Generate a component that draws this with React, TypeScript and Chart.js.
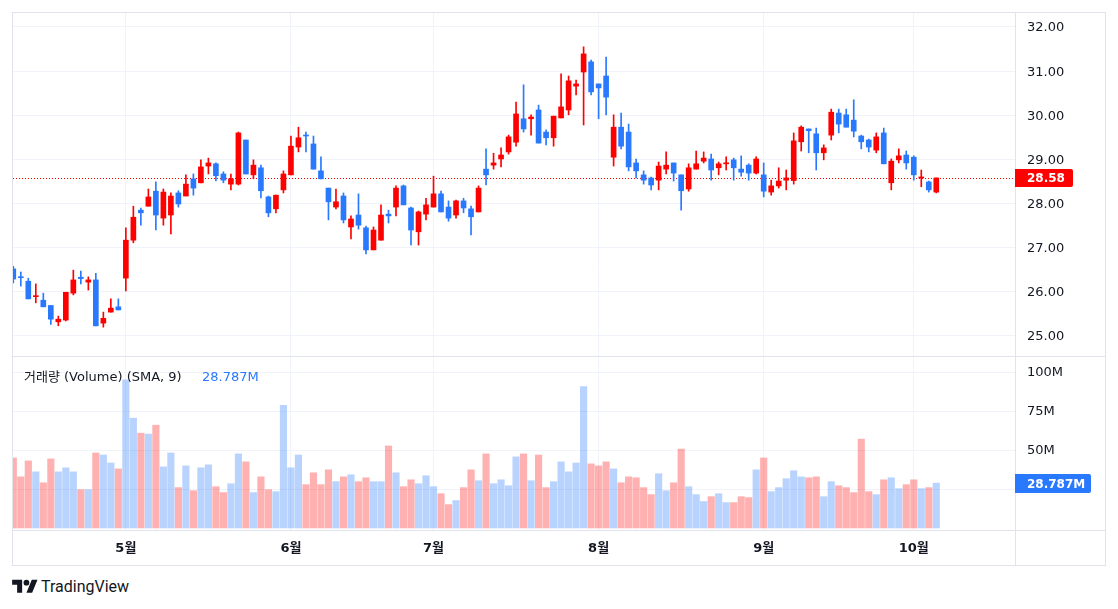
import React, { useEffect, useRef } from 'react';
import { Chart, registerables } from 'chart.js';

Chart.register(...registerables);

// ---- Data (daily candles, index 0 = first visible bar) ----
const opens = [
  26.52, 26.34, 26.24, 25.89, 25.81, 25.69, 25.32, 25.36, 25.97, 26.33,
  26.22, 26.27, 25.29, 25.54, 25.66, 26.31, 27.17, 27.85, 27.94, 28.28,
  27.67, 27.74, 28.24, 28.17, 28.56, 28.47, 28.85, 28.90, 28.67, 28.44,
  28.44, 29.44, 28.65, 28.81, 28.15, 27.88, 28.31, 28.65, 29.28, 29.55,
  29.35, 28.74, 28.35, 27.92, 28.17, 27.47, 27.74, 27.45, 26.95, 27.17,
  27.76, 27.92, 28.40, 27.90, 27.36, 27.76, 27.92, 28.22, 27.92, 27.74,
  28.06, 27.88, 27.81, 28.78, 28.87, 29.01, 29.17, 29.39, 29.92, 29.92,
  30.12, 29.62, 29.49, 29.94, 30.12, 30.66, 30.98, 31.21, 30.71, 30.89,
  29.05, 29.73, 29.62, 28.92, 28.65, 28.58, 28.53, 28.78, 28.92, 28.65,
  28.33, 28.78, 28.96, 29.01, 28.81, 28.90, 28.99, 28.78, 28.87, 28.69,
  28.65, 28.26, 28.40, 28.53, 28.52, 29.40, 29.69, 29.58, 29.15, 29.55,
  30.05, 30.01, 29.89, 29.53, 29.44, 29.21, 29.60, 28.47, 28.99, 29.10,
  29.05, 28.58, 28.49, 28.26,
];
const highs = [
  26.58, 26.45, 26.31, 26.18, 25.97, 25.69, 25.45, 25.99, 26.49, 26.47,
  26.34, 26.42, 25.54, 25.84, 25.84, 27.45, 27.94, 27.90, 28.33, 28.49,
  28.33, 28.24, 28.29, 28.65, 28.67, 28.99, 29.03, 28.92, 28.72, 28.67,
  29.62, 29.44, 28.99, 28.87, 28.17, 28.19, 28.74, 29.53, 29.73, 29.62,
  29.53, 29.06, 28.35, 28.33, 28.24, 27.72, 28.22, 27.49, 27.47, 27.97,
  27.85, 28.40, 28.42, 27.92, 27.83, 28.12, 28.62, 28.28, 28.06, 28.08,
  28.12, 27.94, 28.40, 29.24, 29.14, 29.26, 29.55, 30.30, 30.69, 30.01,
  30.23, 29.67, 29.98, 30.94, 30.89, 30.80, 31.55, 31.25, 30.71, 31.32,
  30.01, 30.05, 29.80, 29.01, 28.74, 28.60, 28.94, 29.17, 28.92, 28.65,
  28.90, 29.19, 29.17, 29.12, 28.94, 29.06, 29.03, 29.08, 28.90, 29.06,
  28.92, 28.53, 28.81, 28.76, 29.60, 29.76, 29.69, 29.71, 29.33, 30.14,
  30.14, 30.14, 30.35, 29.55, 29.46, 29.60, 29.71, 29.01, 29.24, 29.19,
  29.08, 28.76, 28.51, 28.58,
];
const lows = [
  26.20, 26.13, 25.84, 25.75, 25.66, 25.26, 25.23, 25.34, 25.93, 26.18,
  26.04, 25.23, 25.20, 25.54, 25.59, 26.02, 27.11, 27.51, 27.94, 27.40,
  27.51, 27.31, 27.92, 28.17, 28.19, 28.47, 28.67, 28.51, 28.47, 28.31,
  28.42, 28.67, 28.56, 28.13, 27.70, 27.79, 28.24, 28.65, 29.17, 29.17,
  28.78, 28.56, 27.63, 27.88, 27.56, 27.20, 27.42, 26.86, 26.95, 27.17,
  27.56, 27.72, 27.97, 27.06, 27.06, 27.63, 27.92, 27.81, 27.60, 27.67,
  27.79, 27.29, 27.81, 28.42, 28.78, 28.83, 29.12, 29.30, 29.62, 29.55,
  29.37, 29.33, 29.30, 29.94, 30.01, 30.46, 29.78, 30.46, 29.92, 30.01,
  28.85, 29.24, 28.74, 28.58, 28.44, 28.31, 28.31, 28.67, 28.51, 27.85,
  28.28, 28.78, 28.92, 28.53, 28.65, 28.76, 28.53, 28.62, 28.53, 28.67,
  28.15, 28.19, 28.35, 28.31, 28.44, 29.19, 29.15, 28.76, 28.99, 29.44,
  29.60, 29.73, 29.51, 29.24, 29.17, 29.15, 28.90, 28.31, 28.92, 28.78,
  28.53, 28.38, 28.26, 28.24,
];
const closes = [
  26.29, 26.32, 25.84, 25.91, 25.66, 25.38, 25.38, 25.99, 26.27, 26.30,
  26.27, 25.23, 25.40, 25.63, 25.59, 27.17, 27.69, 27.79, 28.15, 27.74,
  28.26, 28.17, 27.99, 28.44, 28.35, 28.83, 28.92, 28.63, 28.53, 28.56,
  29.60, 28.67, 28.87, 28.29, 27.79, 28.19, 28.67, 29.30, 29.49, 29.53,
  28.78, 28.56, 28.04, 28.04, 27.63, 27.65, 27.51, 26.95, 27.40, 27.74,
  27.72, 28.35, 27.97, 27.40, 27.81, 27.97, 28.22, 27.81, 27.67, 28.06,
  27.90, 27.70, 28.35, 28.65, 28.92, 29.10, 29.51, 30.03, 29.69, 29.96,
  29.37, 29.49, 29.98, 30.19, 30.78, 30.71, 31.39, 30.53, 30.62, 30.41,
  29.73, 29.30, 28.83, 28.74, 28.53, 28.42, 28.85, 28.87, 28.69, 28.29,
  28.81, 28.90, 29.03, 28.76, 28.90, 28.92, 28.81, 28.71, 28.69, 29.01,
  28.28, 28.40, 28.51, 28.58, 29.42, 29.73, 29.65, 29.15, 29.26, 30.07,
  29.80, 29.73, 29.64, 29.40, 29.28, 29.51, 28.90, 28.96, 29.08, 28.92,
  28.65, 28.60, 28.31, 28.58,
];
// volume in millions
const volumes = [
  44.9, 32.8, 43.0, 36.0, 29.0, 44.3, 36.0, 38.6, 36.0, 24.6,
  24.6, 48.1, 46.8, 41.7, 37.9, 95.0, 70.4, 60.8, 60.2, 65.9,
  39.2, 48.1, 25.9, 39.8, 23.9, 38.6, 40.5, 26.5, 22.7, 28.4,
  47.5, 42.4, 22.7, 32.8, 24.6, 23.3, 78.6, 38.6, 46.8, 27.8,
  35.4, 27.8, 37.3, 29.7, 32.8, 34.1, 29.7, 32.2, 29.7, 29.7,
  52.6, 35.4, 26.5, 30.9, 28.4, 33.5, 26.5, 22.0, 15.0, 17.6,
  25.9, 37.3, 30.3, 47.5, 28.4, 30.9, 27.1, 45.6, 47.5, 30.3,
  46.8, 25.9, 29.7, 42.4, 36.0, 41.7, 90.7, 41.1, 39.8, 42.4,
  37.9, 29.0, 32.8, 32.2, 25.9, 21.4, 34.8, 23.9, 29.0, 50.6,
  26.5, 21.4, 17.0, 20.1, 22.0, 16.3, 16.3, 20.1, 19.5, 37.3,
  44.9, 23.3, 25.9, 31.6, 36.7, 32.8, 32.2, 32.8, 20.1, 29.7,
  27.1, 25.9, 22.7, 57.0, 23.3, 21.4, 30.9, 32.2, 25.2, 27.8,
  30.9, 25.2, 25.9, 28.787,
];
const monthTickIndex = [15, 37, 56, 78, 100, 120];
const monthTickLabels = ['5월', '6월', '7월', '8월', '9월', '10월'];
const priceTicks = [25, 26, 27, 28, 29, 30, 31, 32];
const volumeTicks = [25, 50, 75, 100];
const volumeLegend = '거래량 (Volume) (SMA, 9)';

// ---- Styling ----
const FONT = "'DejaVu Sans', 'Noto Sans CJK KR', sans-serif";
const LOGO_FONT = "Roboto, 'Noto Sans', sans-serif";
const UP = '#ff0000';
const DOWN = '#2979ff';
const VOL_UP_CANDLE = 'rgba(41,121,255,0.33)';
const VOL_DOWN_CANDLE = 'rgba(255,0,0,0.31)';
const GRID = '#f0f3fa';
const BORDER = '#e0e3eb';
const TEXT = '#131722';

export default function App() {
  const canvasRef = useRef<HTMLCanvasElement | null>(null);

  useEffect(() => {
    const canvas = canvasRef.current;
    if (!canvas) return;
    const n = closes.length;
    const idx = closes.map((_, i) => i);
    const isUp = idx.map((i) => closes[i] >= opens[i]);
    const candleColors = isUp.map((u) => (u ? UP : DOWN));
    const volColors = isUp.map((u) => (u ? VOL_UP_CANDLE : VOL_DOWN_CANDLE));
    const lastClose = closes[n - 1];
    const lastVol = volumes[n - 1];
    const lastUp = isUp[n - 1];

    const roundTag = (ctx: CanvasRenderingContext2D, x: number, y: number, w: number, h: number, r: number) => {
      ctx.beginPath();
      ctx.moveTo(x, y);
      ctx.lineTo(x + w - r, y);
      ctx.quadraticCurveTo(x + w, y, x + w, y + r);
      ctx.lineTo(x + w, y + h - r);
      ctx.quadraticCurveTo(x + w, y + h, x + w - r, y + h);
      ctx.lineTo(x, y + h);
      ctx.closePath();
    };

    const panePlugin = {
      id: 'panePlugin',
      beforeDatasetsDraw(chart: any) {
        const { ctx, chartArea } = chart;
        const y = Math.round(chart.scales.y.getPixelForValue(lastClose)) + 0.5;
        ctx.save();
        ctx.strokeStyle = lastUp ? UP : DOWN;
        ctx.lineWidth = 1;
        ctx.setLineDash([1, 2]);
        ctx.beginPath();
        ctx.moveTo(chartArea.left, y);
        ctx.lineTo(chartArea.right, y);
        ctx.stroke();
        ctx.restore();
      },
      afterDraw(chart: any) {
        const { ctx, chartArea, width, height } = chart;
        const ys = chart.scales.y;
        const yv = chart.scales.yv;
        ctx.save();
        ctx.strokeStyle = BORDER;
        ctx.lineWidth = 1;
        ctx.beginPath();
        const sep = Math.round(ys.bottom) + 0.5;
        ctx.moveTo(0, sep);
        ctx.lineTo(width, sep);
        const bot = Math.round(chartArea.bottom) + 0.5;
        ctx.moveTo(0, bot);
        ctx.lineTo(width, bot);
        const rx = Math.round(chartArea.right) + 0.5;
        ctx.moveTo(rx, 0);
        ctx.lineTo(rx, height);
        ctx.stroke();

        // last price tag
        const py = Math.round(ys.getPixelForValue(lastClose));
        ctx.fillStyle = lastUp ? UP : DOWN;
        roundTag(ctx, chartArea.right, py - 9, 58, 18, 2);
        ctx.fill();
        ctx.fillStyle = '#ffffff';
        ctx.font = `bold 12px ${FONT}`;
        ctx.textBaseline = 'middle';
        ctx.textAlign = 'left';
        ctx.fillText(lastClose.toFixed(2), chartArea.right + 12, py + 1);

        // last volume tag
        const vy = Math.round(yv.getPixelForValue(lastVol));
        ctx.fillStyle = DOWN;
        roundTag(ctx, chartArea.right, vy - 9, 76, 19, 2);
        ctx.fill();
        ctx.fillStyle = '#ffffff';
        ctx.fillText(lastVol.toFixed(3) + 'M', chartArea.right + 12, vy + 1.5);
        ctx.restore();
      },
    };

    const chart = new Chart(canvas, {
      type: 'bar',
      data: {
        datasets: [
          {
            label: 'body',
            data: idx.map((i) => ({ x: i, y: [opens[i], closes[i]] })) as any,
            backgroundColor: candleColors,
            barThickness: 5,
            minBarLength: 1,
            grouped: false,
            borderWidth: 0,
            xAxisID: 'x',
            yAxisID: 'y',
          },
          {
            label: 'wick',
            data: idx.map((i) => ({ x: i, y: [lows[i], highs[i]] })) as any,
            backgroundColor: candleColors,
            barThickness: 1,
            minBarLength: 1,
            grouped: false,
            borderWidth: 0,
            xAxisID: 'x',
            yAxisID: 'y',
          },
          {
            label: 'volume',
            data: idx.map((i) => ({ x: i, y: volumes[i] })) as any,
            backgroundColor: volColors,
            barThickness: 6.5,
            grouped: false,
            borderWidth: 0,
            xAxisID: 'x',
            yAxisID: 'yv',
          },
        ],
      },
      options: {
        responsive: false,
        animation: false,
        events: [],
        layout: { padding: 0 },
        plugins: { legend: { display: false }, tooltip: { enabled: false } },
        scales: {
          x: {
            type: 'linear',
            position: 'bottom',
            offset: false,
            min: -0.04,
            max: 133.49,
            afterBuildTicks: (s: any) => {
              s.ticks = monthTickIndex.map((v) => ({ value: v }));
            },
            afterFit: (s: any) => {
              s.height = 35;
              s.paddingLeft = 0;
              s.paddingRight = 0;
            },
            ticks: {
              autoSkip: false,
              maxRotation: 0,
              padding: 11,
              color: TEXT,
              font: { family: FONT, size: 13, weight: 'bold' },
              callback: (v: any) => {
                const k = monthTickIndex.indexOf(Number(v));
                return k >= 0 ? monthTickLabels[k] : '';
              },
            },
            grid: { color: GRID, drawTicks: false, offset: false },
            border: { display: false },
          },
          y: {
            type: 'linear',
            position: 'right',
            stack: 'panes',
            stackWeight: 343,
            min: 24.546,
            max: 32.317,
            afterBuildTicks: (s: any) => {
              s.ticks = priceTicks.map((v) => ({ value: v }));
            },
            afterFit: (s: any) => {
              s.width = 90;
              s.paddingTop = 0;
              s.paddingBottom = 0;
            },
            ticks: {
              padding: 12,
              labelOffset: 1,
              color: TEXT,
              font: { family: FONT, size: 13 },
              callback: (v: any) => Number(v).toFixed(2),
            },
            grid: { color: GRID, drawTicks: false },
            border: { display: false },
          },
          yv: {
            type: 'linear',
            position: 'right',
            stack: 'panes',
            stackWeight: 174,
            min: -1.28,
            max: 110.26,
            afterBuildTicks: (s: any) => {
              s.ticks = volumeTicks.map((v) => ({ value: v }));
            },
            afterFit: (s: any) => {
              s.width = 90;
              s.paddingTop = 0;
              s.paddingBottom = 0;
            },
            ticks: {
              padding: 12,
              labelOffset: 1,
              color: TEXT,
              font: { family: FONT, size: 13 },
              callback: (v: any) => `${v}M`,
            },
            grid: { color: GRID, drawTicks: false },
            border: { display: false },
          },
        },
      } as any,
      plugins: [panePlugin as any],
    });
    return () => chart.destroy();
  }, []);

  return (
    <div
      style={{
        position: 'fixed',
        left: 0,
        top: 0,
        width: 1118,
        height: 609,
        background: '#ffffff',
        fontFamily: FONT,
        color: TEXT,
        overflow: 'hidden',
      }}
    >
      <div
        style={{
          position: 'absolute',
          left: 12,
          top: 12,
          width: 1094,
          height: 554,
          border: `1px solid ${BORDER}`,
          boxSizing: 'border-box',
        }}
      />
      <canvas
        ref={canvasRef}
        width={1092}
        height={552}
        style={{ position: 'absolute', left: 13, top: 13, width: 1092, height: 552 }}
      />
      <div
        style={{
          position: 'absolute',
          left: 24,
          top: 368,
          fontSize: 13,
          lineHeight: '18px',
          color: TEXT,
          whiteSpace: 'nowrap',
        }}
      >
        {volumeLegend}
      </div>
      <div
        style={{
          position: 'absolute',
          left: 202,
          top: 368,
          fontSize: 13,
          lineHeight: '18px',
          color: DOWN,
          whiteSpace: 'nowrap',
        }}
      >
        {volumes[volumes.length - 1].toFixed(3)}M
      </div>
      <svg
        width={26}
        height={20}
        viewBox="0 0 36 28"
        style={{ position: 'absolute', left: 12, top: 577 }}
      >
        <path d="M14 22H7V11H0V4h14v18zM28 22h-8l7.5-18h8L28 22z" fill={TEXT} />
        <circle cx="20" cy="8" r="4" fill={TEXT} />
      </svg>
      <div
        style={{
          position: 'absolute',
          left: 41,
          top: 578,
          fontSize: 16,
          lineHeight: '18px',
          fontFamily: LOGO_FONT,
          color: TEXT,
          whiteSpace: 'nowrap',
        }}
      >
        TradingView
      </div>
    </div>
  );
}
